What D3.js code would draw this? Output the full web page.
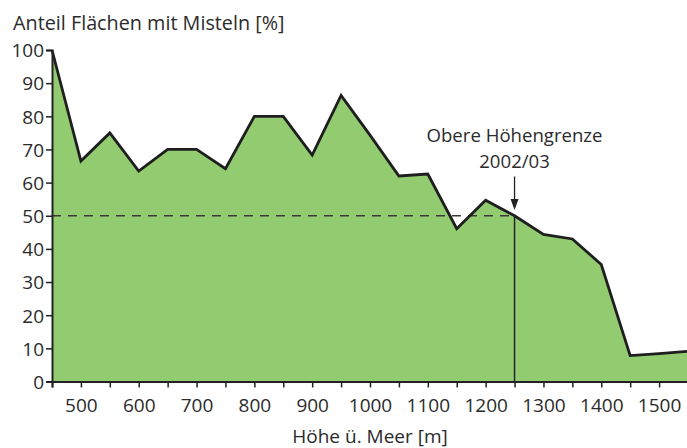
<!DOCTYPE html>
<html>
<head>
<meta charset="utf-8">
<script src="https://cdn.jsdelivr.net/npm/d3@7"></script>
<style>
  body { margin: 0; background: #fff; }
  svg text { font-family: "Open Sans", "Noto Sans", sans-serif; fill: #2b2b2b; }
</style>
</head>
<body>
<div id="chart"></div>
<script>
// Höhe ü. Meer (m) und Anteil Flächen mit Misteln (%)
var elevations = [450, 500, 550, 600, 650, 700, 750, 800, 850, 900, 950, 1000, 1050, 1100,
                  1150, 1200, 1250, 1300, 1350, 1400, 1450, 1500, 1550];
var shares = [100, 66.5, 75, 63.5, 70, 70, 64.2, 80, 80, 68.3, 86.3, 74.3, 62, 62.6,
              46.1, 54.7, 50, 44.4, 43, 35.3, 7.8, 8.4, 9.1];
var xTicks = [500, 600, 700, 800, 900, 1000, 1100, 1200, 1300, 1400, 1500];
var yTicks = [0, 10, 20, 30, 40, 50, 60, 70, 80, 90, 100];
var limitYear = 1250;
var limitShare = 50;
var limitLabel = ["Obere Höhengrenze", "2002/03"];

var width = 687, height = 448;
var margin = {top: 50, right: 0, bottom: 67, left: 52};

var svg = d3.select("#chart").append("svg")
  .attr("width", width)
  .attr("height", height);

var x = d3.scaleLinear().domain([450, 1550]).range([margin.left, 688]);
var y = d3.scaleLinear().domain([0, 100]).range([height - margin.bottom + 0.5, margin.top]);

var pts = elevations.map((e, i) => [e, shares[i]]);

// area
var area = d3.area()
  .x(d => x(d[0]))
  .y0(y(0))
  .y1(d => y(d[1]));
svg.append("path")
  .attr("d", area(pts))
  .attr("fill", "#93cb70");

// 50% dashed line up to the limit
svg.append("line")
  .attr("x1", x(450)).attr("x2", x(limitYear))
  .attr("y1", y(limitShare)).attr("y2", y(limitShare))
  .attr("stroke", "#3a3a3a")
  .attr("stroke-width", 1.5)
  .attr("stroke-dasharray", "9,7");

// vertical limit line
svg.append("line")
  .attr("x1", x(limitYear)).attr("x2", x(limitYear))
  .attr("y1", y(0)).attr("y2", y(limitShare))
  .attr("stroke", "#222")
  .attr("stroke-width", 1.5);

// outline
var line = d3.line()
  .x(d => x(d[0]))
  .y(d => y(d[1]));
svg.append("path")
  .attr("d", line(pts))
  .attr("fill", "none")
  .attr("stroke", "#1e1e1e")
  .attr("stroke-width", 2.8)
  .attr("stroke-linejoin", "miter");

// axes
var yAxis = d3.axisLeft(y).tickValues(yTicks).tickSize(6).tickPadding(2);
var gy = svg.append("g")
  .attr("transform", "translate(" + x(450) + ",0)")
  .call(yAxis);
gy.select(".domain").attr("stroke", "#222").attr("stroke-width", 2);
gy.selectAll(".tick line").attr("stroke", "#222").attr("stroke-width", 1.5);
gy.selectAll("text").style("font-size", "19px").attr("fill", "#2b2b2b").attr("dy", "0.36em");

var xAxis = d3.axisBottom(x)
  .tickValues(d3.range(450, 1551, 50))
  .tickSize(6)
  .tickPadding(11)
  .tickFormat(d => xTicks.indexOf(d) >= 0 ? d : "");
var gx = svg.append("g")
  .attr("transform", "translate(0," + y(0) + ")")
  .call(xAxis);
gx.select(".domain").attr("stroke", "#222").attr("stroke-width", 2);
gx.selectAll(".tick line").attr("stroke", "#222").attr("stroke-width", 1.5);
gx.selectAll("text").style("font-size", "19px").attr("fill", "#2b2b2b");

// titles
svg.append("text")
  .attr("x", 13).attr("y", 29.5)
  .style("font-size", "19.8px")
  .text("Anteil Flächen mit Misteln [%]");

svg.append("text")
  .attr("x", 370).attr("y", 443)
  .attr("text-anchor", "middle")
  .style("font-size", "19px")
  .text("Höhe ü. Meer [m]");

// annotation
svg.append("text")
  .attr("x", x(limitYear)).attr("y", 141.5)
  .attr("text-anchor", "middle")
  .style("font-size", "18.6px")
  .text(limitLabel[0]);
svg.append("text")
  .attr("x", x(limitYear)).attr("y", 168.3)
  .attr("text-anchor", "middle")
  .style("font-size", "18.6px")
  .text(limitLabel[1]);

var ax = x(limitYear);
svg.append("line")
  .attr("x1", ax).attr("x2", ax)
  .attr("y1", 176.5).attr("y2", 204)
  .attr("stroke", "#222").attr("stroke-width", 1.3);
svg.append("path")
  .attr("d", "M" + (ax - 4) + ",199 L" + (ax + 4) + ",199 L" + ax + ",210 Z")
  .attr("fill", "#222");
</script>
</body>
</html>
